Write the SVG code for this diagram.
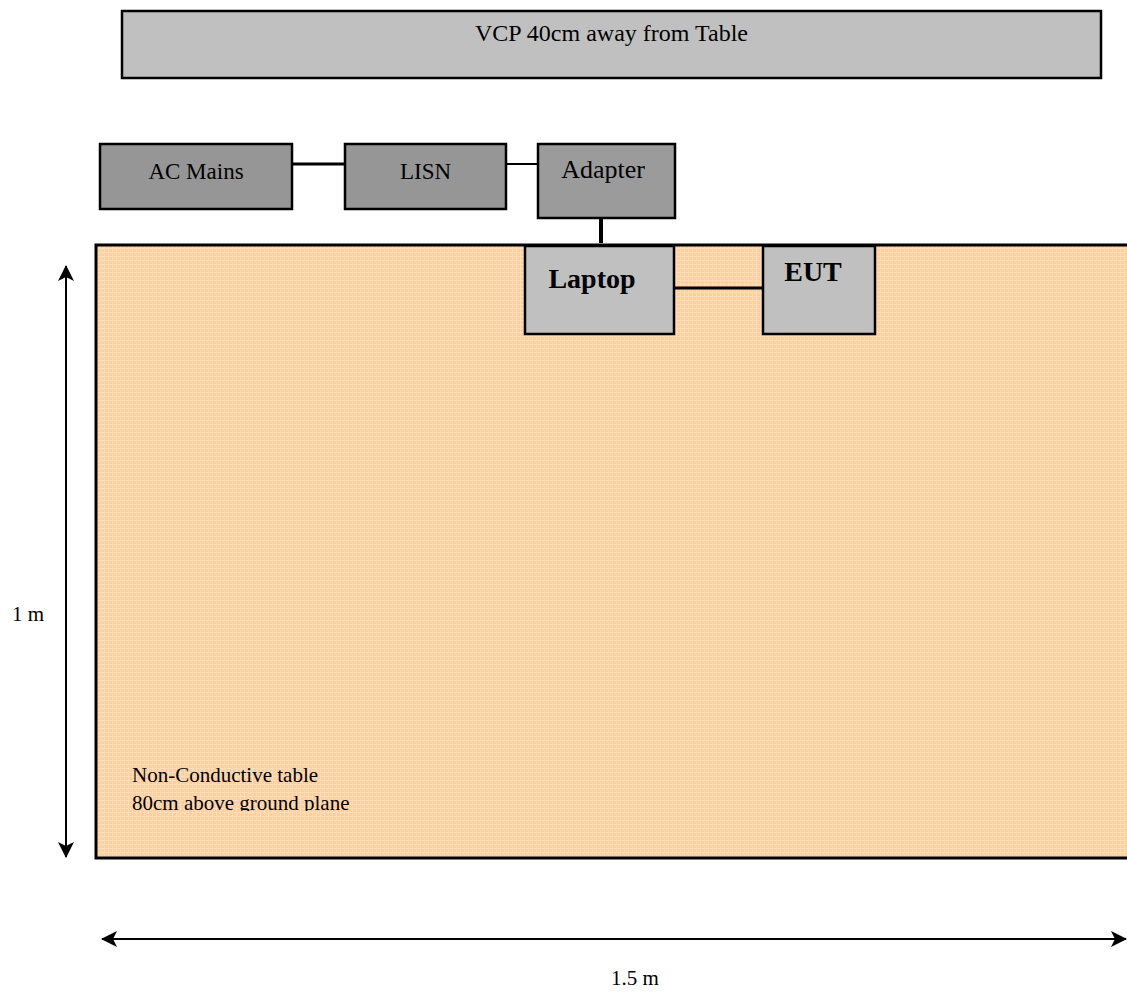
<svg xmlns="http://www.w3.org/2000/svg" width="1127" height="992" viewBox="0 0 1127 992">
<style>
text{font-family:"Liberation Serif","Times New Roman",serif;fill:#000}
.box{stroke:#000;stroke-width:2.5}
.dark{fill:#969696}
.light{fill:#c0c0c0}
.conn{stroke:#000;fill:none}
.dim{stroke:#000;stroke-width:2;fill:none}
</style>
<defs>
<pattern id="grid" width="4" height="4" patternUnits="userSpaceOnUse">
<rect width="4" height="4" fill="#ffcf9f"/>
<rect x="0" y="0" width="4" height="1" fill="#ffdbb6"/>
<rect x="0" y="0" width="1" height="4" fill="#ffdbb6"/>
</pattern>
<marker id="ah" viewBox="0 0 16 16" refX="15" refY="8" markerWidth="16" markerHeight="16" markerUnits="userSpaceOnUse" orient="auto-start-reverse">
<path d="M0,0 L16,8 L0,16 L4,8 Z" fill="#000"/>
</marker>
<clipPath id="tclip"><rect x="96" y="246" width="1031" height="565"/></clipPath>
</defs>
<g id="vcp">
<rect class="box light" x="122" y="11" width="979" height="67"/>
<text x="611.5" y="41" font-size="24" text-anchor="middle">VCP 40cm away from Table</text>
</g>
<g id="table">
<rect x="96" y="245" width="1040" height="613" fill="url(#grid)" stroke="#000" stroke-width="3"/>
<g clip-path="url(#tclip)">
<text x="132" y="782" font-size="21">Non-Conductive table</text>
<text x="132" y="810" font-size="21">80cm above ground plane</text>
</g>
</g>
<g id="connectors">
<line class="conn" x1="292" y1="164" x2="345" y2="164" stroke-width="3"/>
<line class="conn" x1="506" y1="164" x2="538" y2="164" stroke-width="2"/>
<line class="conn" x1="601" y1="218" x2="601" y2="243" stroke-width="4"/>
<line class="conn" x1="674" y1="288" x2="763" y2="288" stroke-width="3"/>
</g>
<g id="ac-mains">
<rect class="box dark" x="100" y="144" width="192" height="65"/>
<text x="196" y="179" font-size="23" text-anchor="middle">AC Mains</text>
</g>
<g id="lisn">
<rect class="box dark" x="345" y="144" width="161" height="65"/>
<text x="425.5" y="179" font-size="23" text-anchor="middle">LISN</text>
</g>
<g id="adapter">
<rect class="box" fill="#9b9b9b" x="538" y="144" width="137" height="74"/>
<text x="603" y="178" font-size="26" text-anchor="middle">Adapter</text>
</g>
<g id="laptop">
<rect class="box light" x="525" y="246" width="149" height="88"/>
<text x="592" y="288" font-size="28" font-weight="bold" text-anchor="middle">Laptop</text>
</g>
<g id="eut">
<rect class="box light" x="763" y="246" width="112" height="88"/>
<text x="813" y="281" font-size="28" font-weight="bold" text-anchor="middle">EUT</text>
</g>
<g id="dimensions">
<line class="dim" x1="66" y1="266" x2="66" y2="857" marker-start="url(#ah)" marker-end="url(#ah)"/>
<text x="12" y="621" font-size="21">1 m</text>
<line class="dim" x1="102" y1="939" x2="1126" y2="939" marker-start="url(#ah)" marker-end="url(#ah)"/>
<text x="611" y="985" font-size="21">1.5 m</text>
</g>
</svg>
